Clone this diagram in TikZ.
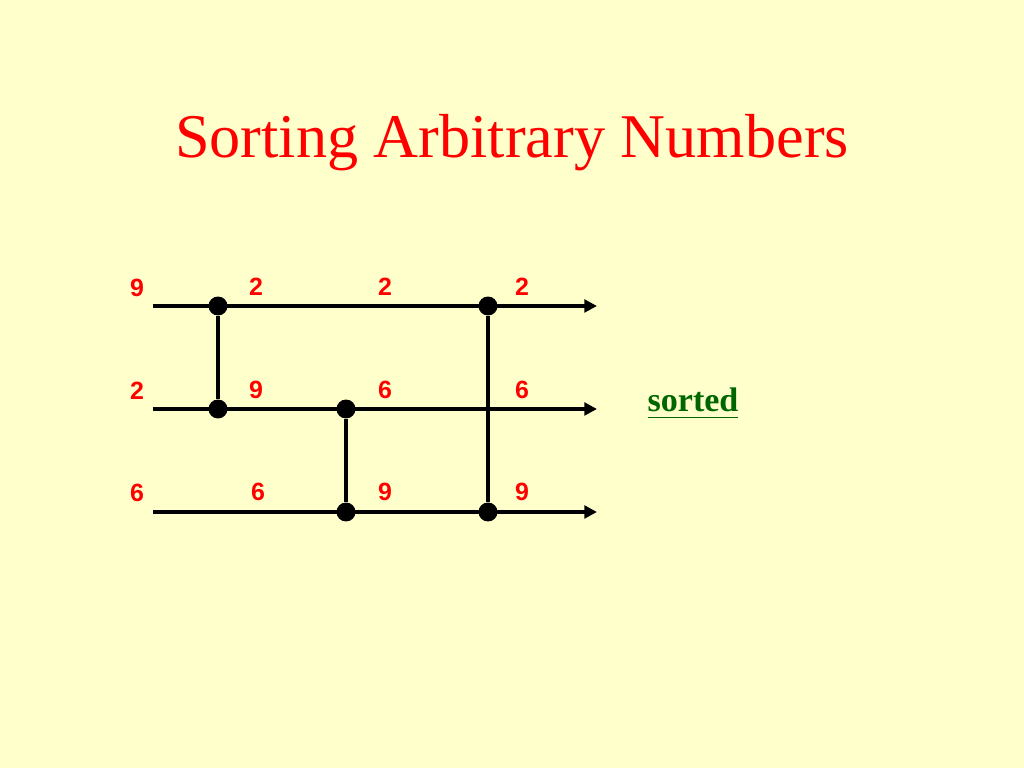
\documentclass[tikz,border=0pt]{standalone}
\usepackage{fontspec}
\setmainfont{Liberation Serif}
\newfontfamily\digitfont{Liberation Sans}
\usepackage{tikz}
\usetikzlibrary{arrows.meta}
\usetikzlibrary{positioning}
\definecolor{slidebg}{HTML}{FFFFCC}
\definecolor{sortgreen}{HTML}{006600}
\begin{document}
\begin{tikzpicture}[
                wire/.style={draw,line width=1.1pt,-{Triangle[length=3.6pt,width=3.6pt]}},
                comparator/.style={draw,line width=1.1pt},
                dot/.style={circle,fill=black,inner sep=0pt,minimum size=5.4pt},
                val/.style={text=red,font=\digitfont\bfseries\fontsize{7.1}{8}\selectfont}
            ]
            \fill[slidebg] (0,0) rectangle (10.24,7.68);
            \useasboundingbox (0,0) rectangle (10.24,7.68);
            \node[text=red,font=\fontsize{17.7}{20}\selectfont,anchor=base](title) at (5.12,6.10){Sorting Arbitrary Numbers};
            % wires
            \coordinate(w1s) at (1.53,4.62); \coordinate(w1e) at (5.97,4.62);
            \coordinate(w2s) at (1.53,3.59); \coordinate(w2e) at (5.97,3.59);
            \coordinate(w3s) at (1.53,2.56); \coordinate(w3e) at (5.97,2.56);
            \path[wire] (w1s) -- (w1e);
            \path[wire] (w2s) -- (w2e);
            \path[wire] (w3s) -- (w3e);
            % comparators
            \node[dot](c1a) at (2.18,4.62){};
            \node[dot](c1b) at (2.18,3.59){};
            \node[dot](c2a) at (3.46,3.59){};
            \node[dot](c2b) at (3.46,2.56){};
            \node[dot](c3a) at (4.88,4.62){};
            \node[dot](c3b) at (4.88,2.56){};
            \path[comparator] (c1a) -- (c1b);
            \path[comparator] (c2a) -- (c2b);
            \path[comparator] (c3a) -- (c3b);
            % values
            \node[val](in1) at (1.37,4.80){9};
            \node[val](in2) at (1.37,3.77){2};
            \node[val](in3) at (1.37,2.75){6};
            \node[val](a1) at (2.56,4.81){2};
            \node[val](a2) at (2.56,3.78){9};
            \node[val](a3) at (2.58,2.76){6};
            \node[val](b1) at (3.85,4.81){2};
            \node[val](b2) at (3.85,3.78){6};
            \node[val](b3) at (3.85,2.76){9};
            \node[val](out1) at (5.22,4.81){2};
            \node[val](out2) at (5.22,3.78){6};
            \node[val](out3) at (5.22,2.76){9};
            \node[text=sortgreen,font=\bfseries\fontsize{9.7}{11}\selectfont,anchor=base](sorted) at (6.93,3.56){\underline{sorted}};
        \end{tikzpicture}
\end{document}
